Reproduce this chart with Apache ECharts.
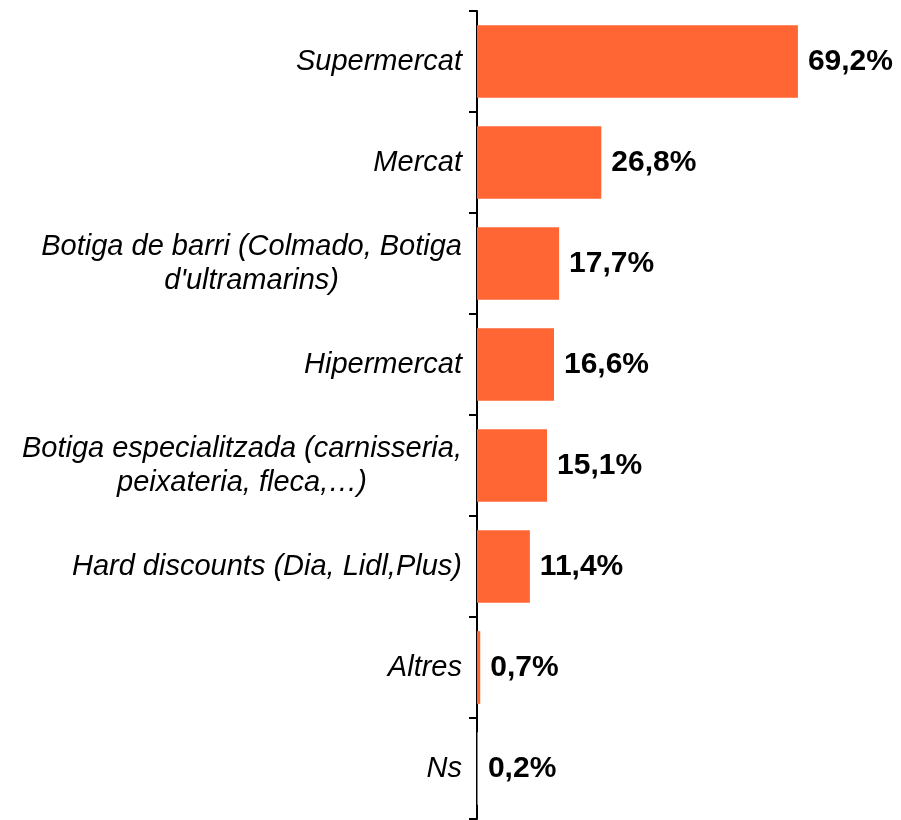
<!DOCTYPE html>
<html>
<head>
    <meta charset="utf-8">
    <title>ECharts</title>
    <script src="https://cdn.jsdelivr.net/npm/echarts@6/dist/echarts.min.js"></script>
</head>
<body style="margin:0">
    <div id="main" style="width: 901px;height:820px;"></div>
    <script type="text/javascript">
        var categories = ['Supermercat', 'Mercat', 'Botiga de barri (Colmado, Botiga\nd\'ultramarins)', 'Hipermercat',
            'Botiga especialitzada (carnisseria,\npeixateria, fleca,\u2026)', 'Hard discounts (Dia, Lidl,Plus)', 'Altres', 'Ns']
        var values = [69.2, 26.8, 17.7, 16.6, 15.1, 11.4, 0.7, 0.2]

        var myChart = echarts.init(document.getElementById('main'))
        var option = {
            animation: false,
            grid: {
                left: 477,
                top: 11,
                width: 371,
                height: 808
            },
            xAxis: {
                type: 'value',
                min: 0,
                max: 80,
                show: false
            },
            yAxis: {
                type: 'category',
                inverse: true,
                data: categories,
                axisLine: { lineStyle: { color: '#000', width: 2 } },
                axisTick: { show: true, length: 8, lineStyle: { color: '#000', width: 2 } },
                axisLabel: {
                    margin: 15,
                    color: '#000',
                    align: 'right',
                    // each line centred inside the label block
                    formatter: function (v) {
                        return v.split('\n').map(function (s) { return '{c|' + s + '}' }).join('\n')
                    },
                    rich: {
                        c: {
                            align: 'center',
                            color: '#000',
                            fontFamily: 'Liberation Sans',
                            fontStyle: 'italic',
                            fontSize: 29,
                            lineHeight: 34
                        }
                    }
                }
            },
            series: [
                {
                    type: 'bar',
                    data: values,
                    barCategoryGap: '28%',
                    itemStyle: { color: '#FF6633' },
                    label: {
                        show: true,
                        position: 'right',
                        distance: 10,
                        color: '#000',
                        fontFamily: 'Liberation Sans',
                        fontWeight: 'bold',
                        fontSize: 30,
                        formatter: function (p) {
                            return p.value.toFixed(1).replace('.', ',') + '%'
                        }
                    }
                }
            ]
        };
        myChart.setOption(option);
    </script>
</body>
</html>
